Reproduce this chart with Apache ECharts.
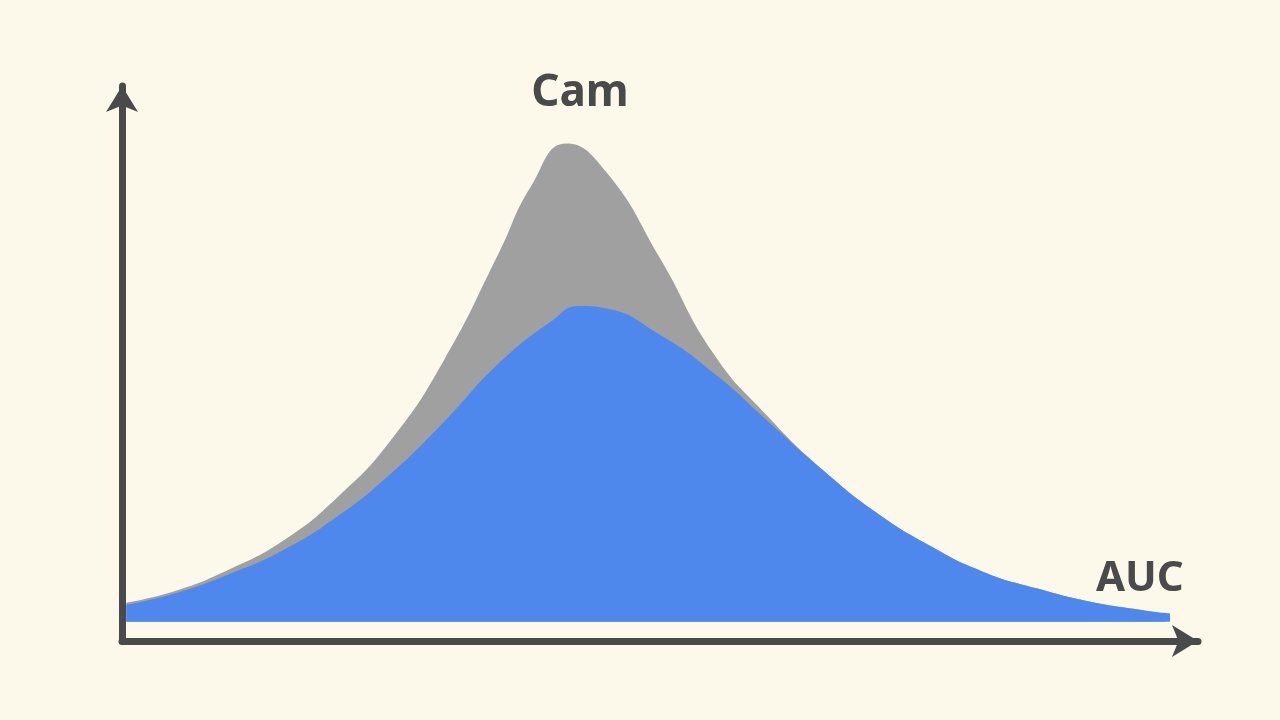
<!DOCTYPE html><html><head><meta charset="utf-8"><script src="https://cdn.jsdelivr.net/npm/echarts@6/dist/echarts.min.js"></script>
<style>html,body{margin:0;background:#fcf9eb}#c{width:1280px;height:720px}</style></head><body><div id="c"></div><script>
const xs = [0.4,5,10,15,20,25,30,35,40,42.5,45,50,55,60,65,70,75,80,85,90,95,97.4];
const blueVals = [3.6,6,10,15,22,31,42,54,63,66,65.5,60,52,42,32,23,16,10.5,7,4.2,2.4,1.8];
const grayX = [0.4,5,10,15,20,25,30,35,38,41.3,45,50,55,60,65,70,75,80,85,90,95,97];
const grayVals = [4,6.5,11,17,26,38,55,77,91,100,94,76,56,43,32,23,16,10.5,7,4.2,2.4,1.6];
const titleText = 'Cam', xLabel = 'AUC';
const c = echarts.init(document.getElementById('c'));
const ax = {show:true,onZero:false,lineStyle:{color:'#4a4a4a',width:7,cap:'round'},symbol:['none','arrow'],symbolSize:[24,26]};
c.setOption({
 backgroundColor:'#fcf9eb',
 title:{text:titleText,left:575,top:66,textAlign:'center',textStyle:{fontFamily:'Noto Sans',fontSize:44,fontWeight:'bold',color:'#4a4a4a'}},
 graphic:[{type:'text',left:1096,top:558,style:{text:xLabel,font:'bold 42px "Noto Sans"',fill:'#4a4a4a'}}],
 grid:{left:122,right:82,top:86,bottom:79},
 xAxis:{type:'value',min:0,max:100,axisLine:ax,axisTick:{show:false},axisLabel:{show:false},splitLine:{show:false}},
 yAxis:{type:'value',min:-4,max:112,axisLine:ax,axisTick:{show:false},axisLabel:{show:false},splitLine:{show:false}},
 series:[
  {type:'line',data:grayX.map((x,i)=>[x,grayVals[i]]),smooth:true,symbol:'none',lineStyle:{width:0},areaStyle:{color:'#a0a0a0',opacity:1,origin:0}},
  {type:'line',data:xs.map((x,i)=>[x,blueVals[i]]),smooth:true,symbol:'none',lineStyle:{width:0},areaStyle:{color:'#4f88ec',opacity:1,origin:0}}
 ]
});
</script></body></html>
